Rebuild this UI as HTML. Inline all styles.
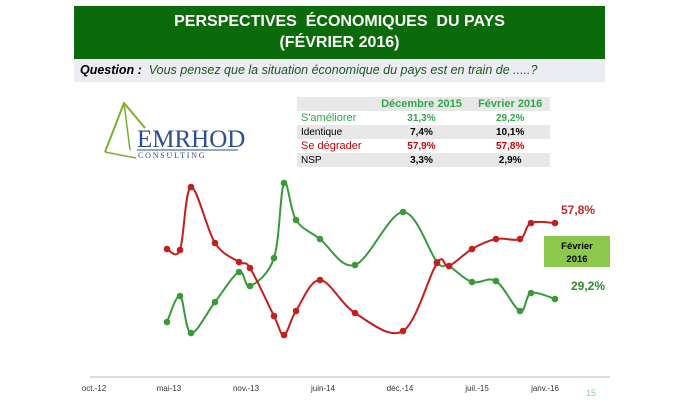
<!DOCTYPE html>
<html><head><meta charset="utf-8"><style>
body{margin:0;width:680px;height:400px;background:#fff;overflow:hidden;position:relative;font-family:"Liberation Sans",sans-serif}
.band{position:absolute;left:74px;top:6px;width:531px;height:53px;background:#0b6b0b;color:#fff;text-align:center;font-weight:bold;font-size:16px;line-height:21px;padding-top:5px;box-sizing:border-box}
.q{position:absolute;left:74px;top:59px;width:531px;height:23px;background:#ececf3;font-style:italic;font-size:12.5px;line-height:23px;padding-left:6px;box-sizing:border-box;color:#1a5a1a}
.q b{color:#000}
table{position:absolute;left:297px;top:97px;width:253px;border-collapse:collapse;font-size:10px}
td{height:14px;padding:0 4px}
td.n{text-align:center;font-weight:bold}
</style></head><body>
<div class="band">PERSPECTIVES&nbsp; ÉCONOMIQUES&nbsp; DU PAYS<br>(FÉVRIER 2016)</div>
<div class="q"><b>Question :</b>&nbsp; Vous pensez que la situation économique du pays est en train de .....?</div>
<svg style="position:absolute;left:0;top:0" width="680" height="400">
<polyline points="105,152 124,103 145,128" fill="none" stroke="#7ab030" stroke-width="2"/>
<line x1="124" y1="103" x2="130" y2="150" stroke="#7ab030" stroke-width="1.5"/>
<line x1="105" y1="152" x2="136" y2="158" stroke="#7ab030" stroke-width="1.5"/>
<text x="137" y="147" font-family="Liberation Serif" font-size="25" fill="#2a4f8c">EMRHOD</text>
<line x1="137" y1="150" x2="238" y2="150" stroke="#2a4f8c"/>
<text x="138" y="158" font-family="Liberation Serif" font-size="8" fill="#2a4f8c" letter-spacing="1.8">CONSULTING</text>
</svg>
<table>
<tr style="background:#e8e8e8"><td></td><td class="n" style="color:#2ea84a;font-size:11px">Décembre 2015</td><td class="n" style="color:#2ea84a;font-size:11px">Février 2016</td></tr>
<tr><td style="color:#2ea84a;font-size:11px">S'améliorer</td><td class="n" style="color:#2ea84a">31,3%</td><td class="n" style="color:#2ea84a">29,2%</td></tr>
<tr style="background:#e8e8e8"><td>Identique</td><td class="n">7,4%</td><td class="n">10,1%</td></tr>
<tr><td style="color:#c00;font-size:11px">Se dégrader</td><td class="n" style="color:#c00">57,9%</td><td class="n" style="color:#c00">57,8%</td></tr>
<tr style="background:#e8e8e8"><td>NSP</td><td class="n">3,3%</td><td class="n">2,9%</td></tr>
</table>
<svg id="c" style="position:absolute;left:0;top:0" width="680" height="400">
<line x1="90" y1="377" x2="610" y2="377" stroke="#bbb"/>
<g font-size="8" fill="#333" text-anchor="middle">
<text x="94" y="391">oct.-12</text><text x="169" y="391">mai-13</text><text x="246" y="391">nov.-13</text><text x="323" y="391">juin-14</text><text x="400" y="391">déc.-14</text><text x="477" y="391">juil.-15</text><text x="545" y="391">janv.-16</text>
</g>
<text x="591" y="396" font-size="9" fill="#9c9" text-anchor="middle">15</text>
<text x="578" y="214" font-size="12" font-weight="bold" fill="#c0282a" text-anchor="middle">57,8%</text>
<text x="588" y="290" font-size="12" font-weight="bold" fill="#2e8b2e" text-anchor="middle">29,2%</text>
<rect x="544" y="236" width="66" height="31" fill="#8cc84b"/>
<text x="577" y="249" font-size="9.5" font-weight="bold" text-anchor="middle">Février</text>
<text x="577" y="262" font-size="9.5" font-weight="bold" text-anchor="middle">2016</text>
</svg>
<script>
var X=[167,180,191,215,239,250,274,284,296,320,355,403,437,449,472,496,520,531,555];
var R=[249,250,187,243,262,268,316,335,311,280,313,331,263,266,249,239,239,223,223];
var G=[322,296,333,302,272,286,258,183,220,239,265,212,262,266,282,281,311,293,299];
function draw(Y,col){var s=document.getElementById('c'),ns='http://www.w3.org/2000/svg';
var p=[];for(var i=0;i<X.length;i++)p.push([X[i],Y[i]]);
var d='M'+p[0];for(var i=0;i<p.length-1;i++){var a=p[i-1]||p[i],b=p[i],c=p[i+1],e=p[i+2]||c;
d+=' C'+(b[0]+(c[0]-a[0])/6)+','+(b[1]+(c[1]-a[1])/6)+' '+(c[0]-(e[0]-b[0])/6)+','+(c[1]-(e[1]-b[1])/6)+' '+c;}
var el=document.createElementNS(ns,'path');el.setAttribute('d',d);el.setAttribute('fill','none');el.setAttribute('stroke',col);el.setAttribute('stroke-width','2');s.appendChild(el);
p.forEach(function(q){var c=document.createElementNS(ns,'circle');c.setAttribute('cx',q[0]);c.setAttribute('cy',q[1]);c.setAttribute('r','3.3');c.setAttribute('fill',col);s.appendChild(c);});}
draw(G,'#3a9a3a');draw(R,'#c41e1e');
</script>
</body></html>
